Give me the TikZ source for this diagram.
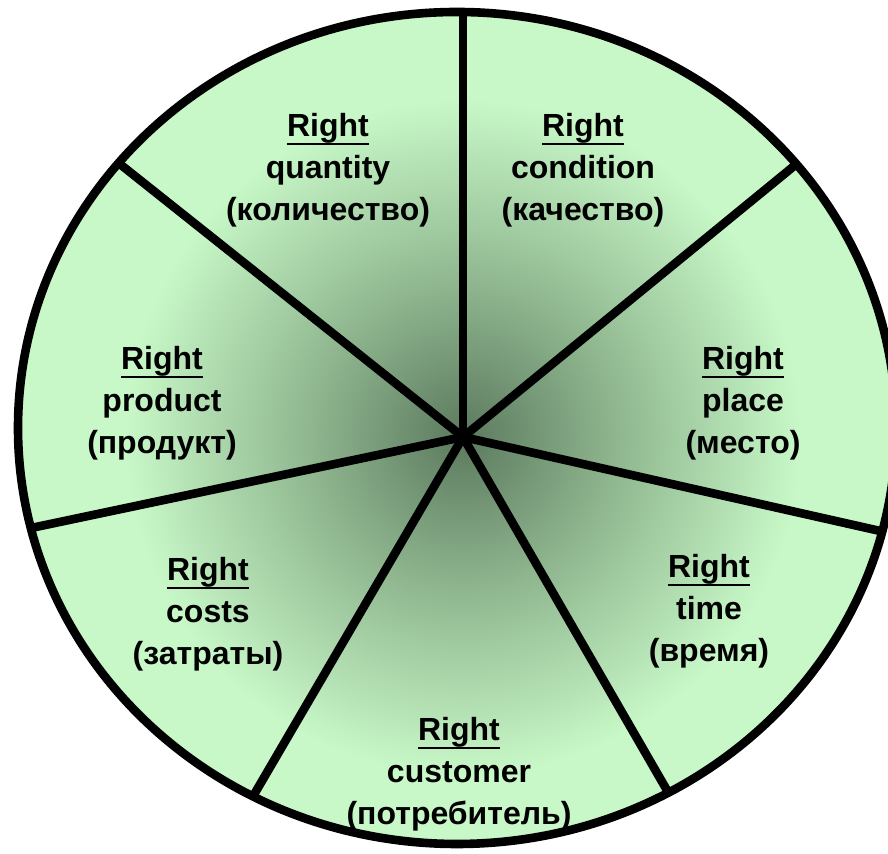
\documentclass[tikz,border=0pt]{standalone}
\usepackage{fontspec}
\setmainfont{Liberation Sans}
\usetikzlibrary{calc}

\definecolor{rimgreen}{RGB}{200,248,200}
\definecolor{midgreen}{RGB}{148,188,148}
\definecolor{hubgreen}{RGB}{92,122,94}
\pgfdeclareradialshading{hubglow}{\pgfpoint{0bp}{0bp}}{%
  color(0bp)=(hubgreen); color(9bp)=(midgreen);
  color(18bp)=(rimgreen); color(50bp)=(rimgreen)}
\newcommand\ulword[1]{\setbox0\hbox{#1}\leavevmode\rlap{\copy0}\rule[-4.2pt]{\wd0}{1pt}}

\begin{document}
\begin{tikzpicture}[x=0.5pt,y=0.5pt,
  spoke/.style={black,line width=4.3pt},
  rim/.style={black,line width=4.3pt},
  sector/.style={font=\bfseries\fontsize{16}{21}\selectfont,align=center,text=black}]
  \useasboundingbox (0,0) rectangle (888,854);
  \coordinate (hub) at (463,417);
  \coordinate (mid) at (457,426);
  % shaded pie with its seven spokes
  \begin{scope}
    \clip (mid) ellipse [x radius=439,y radius=416];
    \shade[shading=hubglow] (hub) circle (470);
    \foreach \a in {90,39.3,-12.7,-60,-120.3,191.9,141.5}
      \draw[spoke] (hub) -- ++(\a:520);
  \end{scope}
  \draw[rim] (mid) ellipse [x radius=439,y radius=416];
  % labels
  \node[sector] (qty)   at (328,684) {\ulword{Right}\\quantity\\(количество)};
  \node[sector] (cond)  at (583,684) {\ulword{Right}\\condition\\(качество)};
  \node[sector] (place) at (743,451) {\ulword{Right}\\place\\(место)};
  \node[sector] (time)  at (709,243) {\ulword{Right}\\time\\(время)};
  \node[sector] (cust)  at (459,80)  {\ulword{Right}\\customer\\(потребитель)};
  \node[sector] (costs) at (208,240) {\ulword{Right}\\costs\\(затраты)};
  \node[sector] (prod)  at (162,451) {\ulword{Right}\\product\\(продукт)};
\end{tikzpicture}
\end{document}
